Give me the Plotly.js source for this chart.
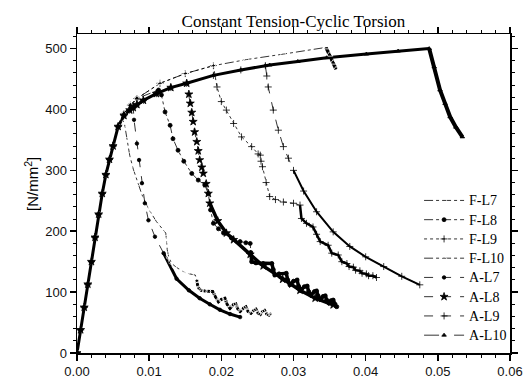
<!DOCTYPE html>
<html>
<head>
<meta charset="utf-8">
<script src="https://cdn.plot.ly/plotly-3.0.1.min.js"></script>
<style>html,body{margin:0;padding:0;background:#fff;}#chart{width:524px;height:378px;}</style>
</head>
<body>
<div id="chart"></div>
<script>
// shared elastic part
const elasticX = [0, 0.0005, 0.001, 0.0015, 0.002, 0.0025, 0.003, 0.0035, 0.004, 0.0045, 0.005, 0.0057];
const elasticY = [0, 38, 75, 113, 150, 190, 228, 262, 293, 318, 340, 372];
// A loading curve
const aLoadX = [0.0065, 0.0073, 0.0078, 0.0083, 0.0092, 0.011, 0.013, 0.0152, 0.0189, 0.0227, 0.0261, 0.0267, 0.0306, 0.0346, 0.0401, 0.0445, 0.0488];
const aLoadY = [390, 399, 403, 408, 415, 426, 436, 443, 456, 465, 472, 473, 479, 485, 491, 496, 500];
// F loading curve
const fLoadX = [0.0065, 0.0074, 0.0083, 0.0115, 0.015, 0.0189, 0.0235, 0.0286, 0.0345];
const fLoadY = [393, 407, 418, 443, 459, 472, 482, 491, 502];

// F-L7
const fL7x = [0.0063, 0.0066, 0.0069, 0.0073, 0.0078, 0.0084, 0.0090, 0.0096, 0.0100, 0.0110, 0.0123];
const fL7y = [385, 375, 350, 325, 302, 279, 260, 245, 235, 216, 197];
const fL7hookX = [0.0124, 0.0125, 0.0127, 0.0130, 0.0135, 0.0140, 0.0145, 0.0152, 0.0158, 0.0164];
const fL7hookY = [185, 170, 158, 150, 143, 139, 135, 131, 129, 128];
const fL7zzX = [0.0166, 0.0167, 0.0169, 0.0172, 0.0177, 0.0182, 0.0188, 0.0192, 0.0196, 0.0200, 0.0205, 0.0208, 0.0212, 0.0217, 0.0220, 0.0223, 0.0226, 0.0231, 0.0234, 0.0237, 0.0241, 0.0245, 0.0248, 0.0251, 0.0254, 0.0257, 0.0260, 0.0263, 0.0266, 0.0269];
const fL7zzY = [120, 112, 106, 103, 102, 101, 101, 92, 84, 88, 90, 80, 73, 80, 81, 72, 68, 74, 76, 68, 65, 70, 72, 65, 63, 68, 70, 64, 62, 65];
// F-L8
const fL8x = [0.0113, 0.0117, 0.0122, 0.0129, 0.0133, 0.0140, 0.0148, 0.0159, 0.0168, 0.0177, 0.0182, 0.0185, 0.0189, 0.0196, 0.0203, 0.0214, 0.0226, 0.0234, 0.0240];
const fL8y = [432, 424, 396, 374, 352, 333, 315, 295, 284, 276, 262, 235, 213, 204, 197, 189, 183, 181, 180];
const fL8zzX = [0.0241, 0.0242, 0.0248, 0.0258, 0.0270, 0.0272, 0.0274, 0.0280, 0.0290, 0.0292, 0.0295, 0.0300, 0.0305, 0.0307, 0.0310, 0.0315, 0.0319, 0.0321, 0.0324, 0.0329, 0.0332, 0.0334, 0.0337, 0.0341, 0.0344, 0.0346, 0.0349, 0.0352, 0.0355, 0.0357, 0.0360];
const fL8zzY = [165, 150, 148, 147, 147, 137, 128, 130, 131, 120, 112, 118, 120, 110, 103, 109, 110, 101, 95, 101, 102, 94, 88, 93, 94, 87, 82, 86, 87, 81, 76];
// F-L9
const fL9x = [0.0194, 0.0200, 0.0207, 0.0217, 0.0228, 0.0242, 0.0251, 0.0254];
const fL9y = [437, 413, 399, 377, 355, 339, 327, 325];
const fL9midX = [0.0255, 0.0257, 0.0262, 0.0267, 0.0275, 0.0286, 0.0300];
const fL9midY = [315, 306, 280, 257, 252, 248, 246];
const fL9zzX = [0.0309, 0.0311, 0.0318, 0.0327, 0.0332, 0.0337, 0.0348, 0.0353, 0.0362, 0.0367, 0.0374, 0.0377, 0.0383, 0.0386, 0.0392, 0.0395, 0.0401, 0.0404, 0.0410, 0.0415];
const fL9zzY = [243, 221, 213, 207, 195, 183, 177, 164, 161, 150, 147, 142, 141, 136, 135, 131, 130, 127, 127, 124];
// F-L10
const fL10x = [0.0350, 0.0355, 0.0359];
const fL10y = [490, 477, 466];
// A-L7
const aL7x = [0.0079, 0.0083, 0.0086, 0.0090, 0.0094, 0.0099, 0.0108];
const aL7y = [383, 344, 317, 279, 246, 218, 191];
const aL7tailX = [0.0120, 0.0138, 0.0155, 0.0170, 0.0184, 0.0198, 0.0212, 0.0226];
const aL7tailY = [164, 122, 103, 90, 80, 71, 64, 59];
// A-L8
const aL8x = [0.0155, 0.0157, 0.0159, 0.0161, 0.0163, 0.0166, 0.0168, 0.0170, 0.0173, 0.0175, 0.0179, 0.0182];
const aL8y = [425, 410, 395, 380, 363, 347, 332, 317, 305, 295, 278, 262];
const aL8tailX = [0.0184, 0.0195, 0.0207, 0.0217, 0.0240, 0.0258, 0.0285, 0.0309, 0.0330, 0.0355];
const aL8tailY = [246, 217, 197, 186, 162, 143, 121, 103, 90, 79];
// A-L9
const aL9x = [0.0263, 0.0265, 0.0272, 0.0279, 0.0286, 0.0293];
const aL9y = [455, 437, 399, 366, 339, 320];
const aL9tailX = [0.0300, 0.0314, 0.0332, 0.0355, 0.0378, 0.0400, 0.0425, 0.0450, 0.0475];
const aL9tailY = [300, 266, 232, 199, 175, 158, 142, 126, 112];
// A-L10
const aL10x = [0.0495, 0.0503, 0.0510, 0.0517, 0.0525, 0.0534];
const aL10y = [470, 432, 410, 388, 371, 355];

const seriesNames = ['F-L7', 'F-L8', 'F-L9', 'F-L10', 'A-L7', 'A-L8', 'A-L9', 'A-L10'];
const xTickVals = [0, 0.01, 0.02, 0.03, 0.04, 0.05, 0.06];
const yTickVals = [0, 100, 200, 300, 400, 500];

function upTo(xs, ys, lim) {
  const ox = [], oy = [];
  xs.forEach((v, i) => { if (v <= lim + 1e-9) { ox.push(v); oy.push(ys[i]); } });
  return [ox, oy];
}
const cat = (...a) => [].concat(...a);

const [fl8lx, fl8ly] = upTo(fLoadX, fLoadY, 0.0083);
const [fl9lx, fl9ly] = upTo(fLoadX, fLoadY, 0.0189);
const [al7lx, al7ly] = upTo(aLoadX, aLoadY, 0.0078);
const [al8lx, al8ly] = upTo(aLoadX, aLoadY, 0.0152);
const [al9lx, al9ly] = upTo(aLoadX, aLoadY, 0.0261);

function leg(i, x, y, dash, sym, size, filled) {
  return {
    type: 'scatter', mode: 'lines+markers',
    name: '<span style="font-size:14px">' + seriesNames[i] + '</span>', x: x, y: y,
    line: {color: '#000', width: 0.8, dash: dash},
    marker: {symbol: sym, size: size, color: filled ? '#000' : '#fff', line: {color: '#000', width: 0.8}},
    hoverinfo: 'skip'
  };
}
function thick(x, y, w) {
  return {type: 'scatter', mode: 'lines', x: x, y: y, showlegend: false,
    line: {color: '#000', width: w}, hoverinfo: 'skip'};
}

const data = [
  thick(cat(elasticX, aLoadX), cat(elasticY, aLoadY), 3),
  thick(aL7tailX, aL7tailY, 3),
  thick(aL8tailX, aL8tailY, 3.5),
  thick(aL9tailX, aL9tailY, 2),
  thick(cat([0.0488], aL10x), cat([500], aL10y), 4),
  thick(cat([0.0345], fL10x), cat([502], fL10y), 3.5),
  thick(fL7zzX, fL7zzY, 3),
  thick(fL8zzX, fL8zzY, 3.5),
  thick(fL9zzX, fL9zzY, 2.5),
  leg(0, cat(elasticX, fL7x, fL7hookX, fL7zzX), cat(elasticY, fL7y, fL7hookY, fL7zzY), 'dashdot', 'circle-open', 5, false),
  leg(1, cat(elasticX, fl8lx, fL8x, fL8zzX), cat(elasticY, fl8ly, fL8y, fL8zzY), 'dashdot', 'circle', 4, true),
  leg(2, cat(elasticX, fl9lx, fL9x, fL9midX, fL9zzX), cat(elasticY, fl9ly, fL9y, fL9midY, fL9zzY), 'dot', 'cross-thin-open', 5, true),
  leg(3, cat(elasticX, fLoadX, fL10x), cat(elasticY, fLoadY, fL10y), 'dashdot', 'triangle-up-open', 6, false),
  leg(4, cat(elasticX, al7lx, aL7x, aL7tailX), cat(elasticY, al7ly, aL7y, aL7tailY), 'dash', 'circle', 3.5, true),
  leg(5, cat(elasticX, al8lx, aL8x, aL8tailX), cat(elasticY, al8ly, aL8y, aL8tailY), 'dash', 'star', 6, true),
  leg(6, cat(elasticX, al9lx, aL9x, aL9tailX), cat(elasticY, al9ly, aL9y, aL9tailY), 'dash', 'cross-thin-open', 5, true),
  leg(7, cat(elasticX, aLoadX, aL10x), cat(elasticY, aLoadY, aL10y), 'longdash', 'triangle-up', 4, true)
];

const axisCommon = {
  showline: true, linecolor: '#000', linewidth: 1.5, mirror: 'allticks',
  ticks: 'outside', ticklen: 6, tickwidth: 1.5, tickcolor: '#000',
  showgrid: false, zeroline: false,
  tickfont: {family: 'Liberation Sans, Arial, sans-serif', size: 13, color: '#111'}
};

const layout = {
  width: 524, height: 378,
  margin: {l: 77, r: 14, t: 34, b: 25},
  paper_bgcolor: '#fff', plot_bgcolor: '#fff',
  title: {text: 'Constant Tension-Cyclic Torsion', x: 0.56, xanchor: 'center', y: 0.945, yanchor: 'middle',
    font: {family: 'Liberation Serif, Times New Roman, serif', size: 17, color: '#000'}},
  xaxis: Object.assign({}, axisCommon, {
    range: [0, 0.06], tickvals: xTickVals, tickformat: '.2f',
    minor: {dtick: 0.002, ticks: 'outside', ticklen: 3, tickwidth: 1, tickcolor: '#000'}
  }),
  yaxis: Object.assign({}, axisCommon, {
    range: [0, 524], tickvals: yTickVals,
    minor: {dtick: 20, ticks: 'outside', ticklen: 3, tickwidth: 1, tickcolor: '#000'}
  }),
  annotations: [{
    text: '[N/mm<sup>2</sup>]', xref: 'paper', yref: 'paper', x: -0.104, y: 0.53,
    xanchor: 'center', yanchor: 'middle', textangle: -90, showarrow: false,
    font: {family: 'Liberation Sans, Arial, sans-serif', size: 15, color: '#000'}
  }],
  showlegend: true,
  legend: {x: 0.79, y: 0.01, xanchor: 'left', yanchor: 'bottom', bgcolor: 'rgba(0,0,0,0)',
    font: {family: 'Liberation Serif, Times New Roman, serif', size: 12.5, color: '#000'},
    itemwidth: 40, tracegroupgap: 0}
};

Plotly.newPlot('chart', data, layout, {staticPlot: true, displayModeBar: false});
</script>
</body>
</html>
